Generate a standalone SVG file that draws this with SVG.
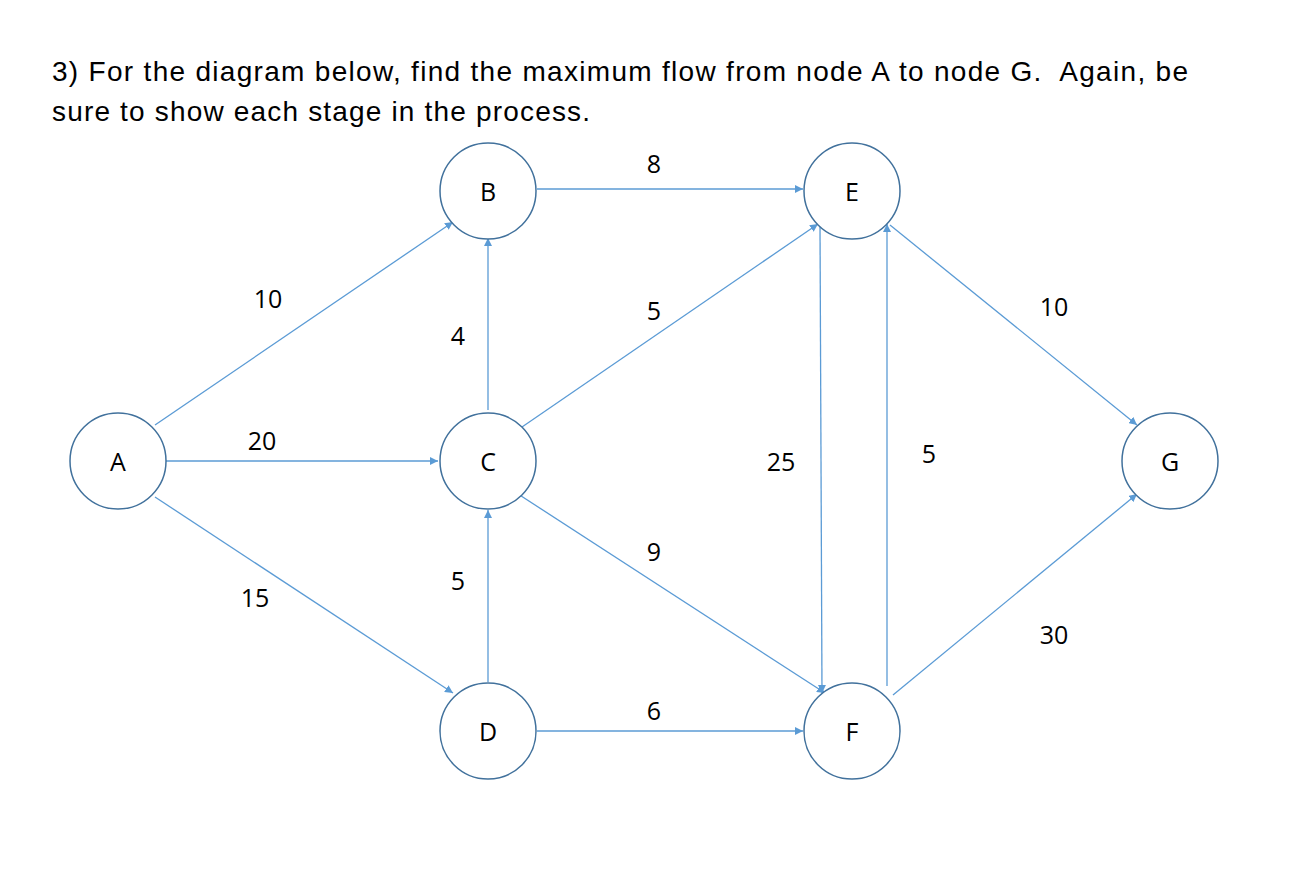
<svg xmlns="http://www.w3.org/2000/svg" width="1304" height="870" viewBox="0 0 1304 870">
<style>
.t{font-family:"Liberation Sans",Arial,sans-serif;font-size:28px;fill:#000}
.n circle{fill:#fff;stroke:#41719C;stroke-width:1.5}
.n text,.l{font-family:"Open Sans",sans-serif;font-size:25px;fill:#000;text-anchor:middle;dominant-baseline:central}
#edges line{stroke:#5B9BD5;stroke-width:1.3;marker-end:url(#ah)}
</style>
<defs><marker id="ah" viewBox="0 0 10 10" refX="10" refY="5" markerWidth="8" markerHeight="8" orient="auto" markerUnits="userSpaceOnUse"><path d="M0,0L10,5L0,10z" fill="#5B9BD5"/></marker></defs>
<rect width="1304" height="870" fill="#fff"/>
<text class="t" x="52" y="81" xml:space="preserve" textLength="1136" lengthAdjust="spacing">3) For the diagram below, find the maximum flow from node A to node G.  Again, be</text>
<text class="t" x="52" y="121" textLength="538" lengthAdjust="spacing">sure to show each stage in the process.</text>
<g id="edges">
<line x1="155" y1="425" x2="453" y2="222"/>
<line x1="166" y1="461" x2="438" y2="461"/>
<line x1="155" y1="497" x2="453" y2="693"/>
<line x1="488" y1="410" x2="488" y2="238"/>
<line x1="488" y1="682" x2="488" y2="510"/>
<line x1="537" y1="189" x2="803" y2="189"/>
<line x1="522" y1="427" x2="818" y2="224"/>
<line x1="515" y1="492" x2="825" y2="693"/>
<line x1="537" y1="731" x2="803" y2="731"/>
<line x1="820" y1="226" x2="822" y2="693"/>
<line x1="887" y1="686" x2="887" y2="224"/>
<line x1="890" y1="225" x2="1137" y2="425"/>
<line x1="893" y1="695" x2="1137" y2="494"/>
</g>
<g id="labels">
<text class="l" x="268" y="298">10</text>
<text class="l" x="262" y="440">20</text>
<text class="l" x="255" y="597">15</text>
<text class="l" x="458" y="335">4</text>
<text class="l" x="458" y="580">5</text>
<text class="l" x="654" y="163">8</text>
<text class="l" x="654" y="310">5</text>
<text class="l" x="654" y="551">9</text>
<text class="l" x="654" y="710">6</text>
<text class="l" x="781" y="461">25</text>
<text class="l" x="929" y="453">5</text>
<text class="l" x="1054" y="306">10</text>
<text class="l" x="1054" y="634">30</text>
</g>
<g id="A" class="n"><circle cx="118" cy="461" r="48"/><text x="118" y="461">A</text></g>
<g id="B" class="n"><circle cx="488" cy="191" r="48"/><text x="488" y="191">B</text></g>
<g id="C" class="n"><circle cx="488" cy="461" r="48"/><text x="488" y="461">C</text></g>
<g id="D" class="n"><circle cx="488" cy="731" r="48"/><text x="488" y="731">D</text></g>
<g id="E" class="n"><circle cx="852" cy="191" r="48"/><text x="852" y="191">E</text></g>
<g id="F" class="n"><circle cx="852" cy="731" r="48"/><text x="852" y="731">F</text></g>
<g id="G" class="n"><circle cx="1170" cy="461" r="48"/><text x="1170" y="461">G</text></g>
</svg>
